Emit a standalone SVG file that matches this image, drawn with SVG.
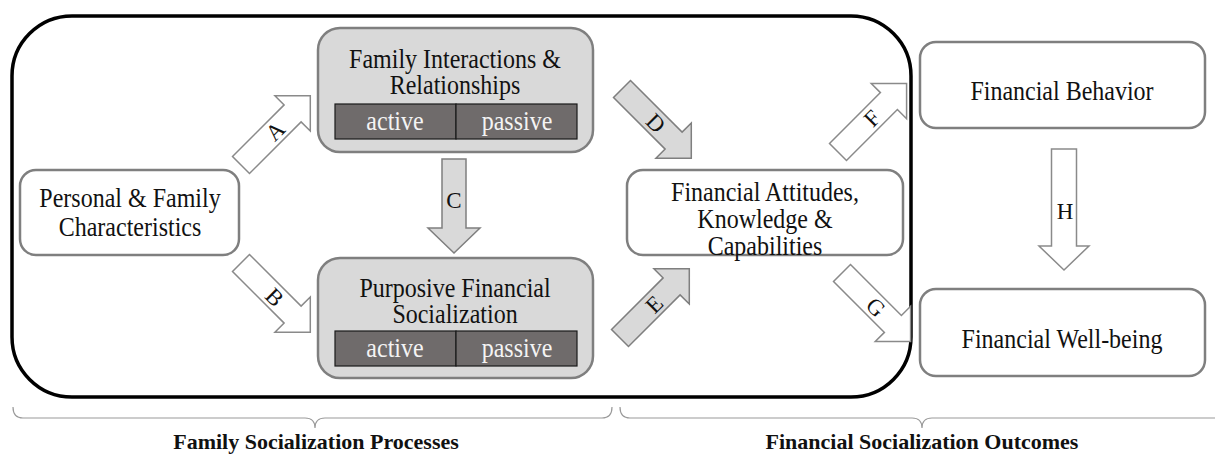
<svg xmlns="http://www.w3.org/2000/svg" width="1215" height="455" viewBox="0 0 1215 455">
  <style>
    .box { fill: #ffffff; stroke: #7f7f7f; stroke-width: 2.5; }
    .gbox { fill: #d9d9d9; stroke: #7f7f7f; stroke-width: 2.5; }
    .bar { fill: #6f6b6b; stroke: #1a1a1a; stroke-width: 1.2; }
    text { font-family: 'Liberation Serif', 'DejaVu Serif', serif; }
    .t { font-size: 24px; fill: #111; text-anchor: middle; }
    .bt { font-size: 24px; fill: #f4f4f4; text-anchor: middle; }
    .lbl { font-size: 23px; fill: #111; text-anchor: middle; }
    .title { font-size: 22px; font-weight: bold; fill: #111; text-anchor: middle; }
    .arw { fill: #ffffff; stroke: #8a8a8a; stroke-width: 1.5; stroke-linejoin: miter; }
    .garw { fill: #d9d9d9; stroke: #7f7f7f; stroke-width: 1.5; stroke-linejoin: miter; }
    .brace { fill: none; stroke: #9a9a9a; stroke-width: 1.2; }
  </style>

  <!-- family socialization frame -->
  <rect id="frame" x="12" y="16" width="899" height="381" rx="60" ry="60" fill="none" stroke="#000" stroke-width="3.5"/>

  <!-- nodes (text slightly stretched vertically, anchored at its baseline) -->
  <g id="personal">
    <rect class="box" x="20" y="170" width="219" height="85" rx="16"/>
    <text class="t" transform="translate(130,207) scale(1,1.1)">Personal &amp; Family</text>
    <text class="t" transform="translate(130,236) scale(1,1.1)">Characteristics</text>
  </g>

  <g id="family-interactions">
    <rect class="gbox" x="318" y="28" width="275" height="124" rx="22"/>
    <text class="t" transform="translate(455,68) scale(1,1.1)">Family Interactions &amp;</text>
    <text class="t" transform="translate(455,94) scale(1,1.1)">Relationships</text>
    <rect class="bar" x="335" y="104" width="121" height="35"/>
    <rect class="bar" x="456" y="104" width="121" height="35"/>
    <text class="bt" transform="translate(395,130) scale(1,1.1)">active</text>
    <text class="bt" transform="translate(517,130) scale(1,1.1)">passive</text>
  </g>

  <g id="purposive">
    <rect class="gbox" x="318" y="258" width="275" height="120" rx="22"/>
    <text class="t" transform="translate(455,297) scale(1,1.1)">Purposive Financial</text>
    <text class="t" transform="translate(455,323) scale(1,1.1)">Socialization</text>
    <rect class="bar" x="335" y="331" width="121" height="35"/>
    <rect class="bar" x="456" y="331" width="121" height="35"/>
    <text class="bt" transform="translate(395,357) scale(1,1.1)">active</text>
    <text class="bt" transform="translate(517,357) scale(1,1.1)">passive</text>
  </g>

  <g id="attitudes">
    <rect class="box" x="627" y="170" width="276" height="85" rx="16"/>
    <text class="t" transform="translate(765,201) scale(1,1.1)">Financial Attitudes,</text>
    <text class="t" transform="translate(765,228) scale(1,1.1)">Knowledge &amp;</text>
    <text class="t" transform="translate(765,255) scale(1,1.1)">Capabilities</text>
  </g>

  <g id="behavior">
    <rect class="box" x="920" y="42" width="285" height="86" rx="16"/>
    <text class="t" transform="translate(1062,100) scale(1,1.1)">Financial Behavior</text>
  </g>

  <g id="wellbeing">
    <rect class="box" x="920" y="289" width="285" height="87" rx="16"/>
    <text class="t" transform="translate(1062,348) scale(1,1.1)">Financial Well-being</text>
  </g>

  <!-- block arrows: drawn along +x from tail (0,0) to tip (L,0), then placed -->
  <g id="connectors">
    <g transform="translate(241,165) rotate(-45)">
      <path class="arw" d="M0,-12 H73 V-25 L98,0 L73,25 V12 H0 Z"/>
      <text class="lbl" x="48" y="8">A</text>
    </g>
    <g transform="translate(241,263) rotate(45)">
      <path class="arw" d="M0,-12 H73 V-25 L98,0 L73,25 V12 H0 Z"/>
      <text class="lbl" x="48" y="8">B</text>
    </g>
    <g transform="translate(454,159) rotate(90)">
      <path class="garw" d="M0,-12 H69 V-26 L94,0 L69,26 V12 H0 Z"/>
    </g>
    <text class="lbl" x="454" y="208">C</text>
    <g transform="translate(622,89) rotate(45)">
      <path class="garw" d="M0,-12 H73 V-25 L98,0 L73,25 V12 H0 Z"/>
      <text class="lbl" x="48" y="8">D</text>
    </g>
    <g transform="translate(620,338) rotate(-45)">
      <path class="garw" d="M0,-12 H73 V-25 L98,0 L73,25 V12 H0 Z"/>
      <text class="lbl" x="48" y="8">E</text>
    </g>
    <g transform="translate(838,152) rotate(-45)">
      <path class="arw" d="M0,-12 H72 V-25 L97,0 L72,25 V12 H0 Z"/>
      <text class="lbl" x="48" y="8">F</text>
    </g>
    <g transform="translate(842,273) rotate(45)">
      <path class="arw" d="M0,-12 H72 V-25 L97,0 L72,25 V12 H0 Z"/>
      <text class="lbl" x="48" y="8">G</text>
    </g>
    <g transform="translate(1064,149) rotate(90)">
      <path class="arw" d="M0,-12.5 H97 V-25 L121,0 L97,25 V12.5 H0 Z"/>
    </g>
    <text class="lbl" x="1065" y="219">H</text>
  </g>

  <!-- group braces and their captions -->
  <g id="brace-processes">
    <path class="brace" d="M13,407 Q13,418 23,418 H305 Q315,418 315,428 Q315,418 325,418 H602 Q612,418 612,407"/>
    <text class="title" x="316" y="449">Family Socialization Processes</text>
  </g>
  <g id="brace-outcomes">
    <path class="brace" d="M620,407 Q620,418 630,418 H912 Q922,418 922,428 Q922,418 932,418 H1215"/>
    <text class="title" x="922" y="449">Financial Socialization Outcomes</text>
  </g>
</svg>
